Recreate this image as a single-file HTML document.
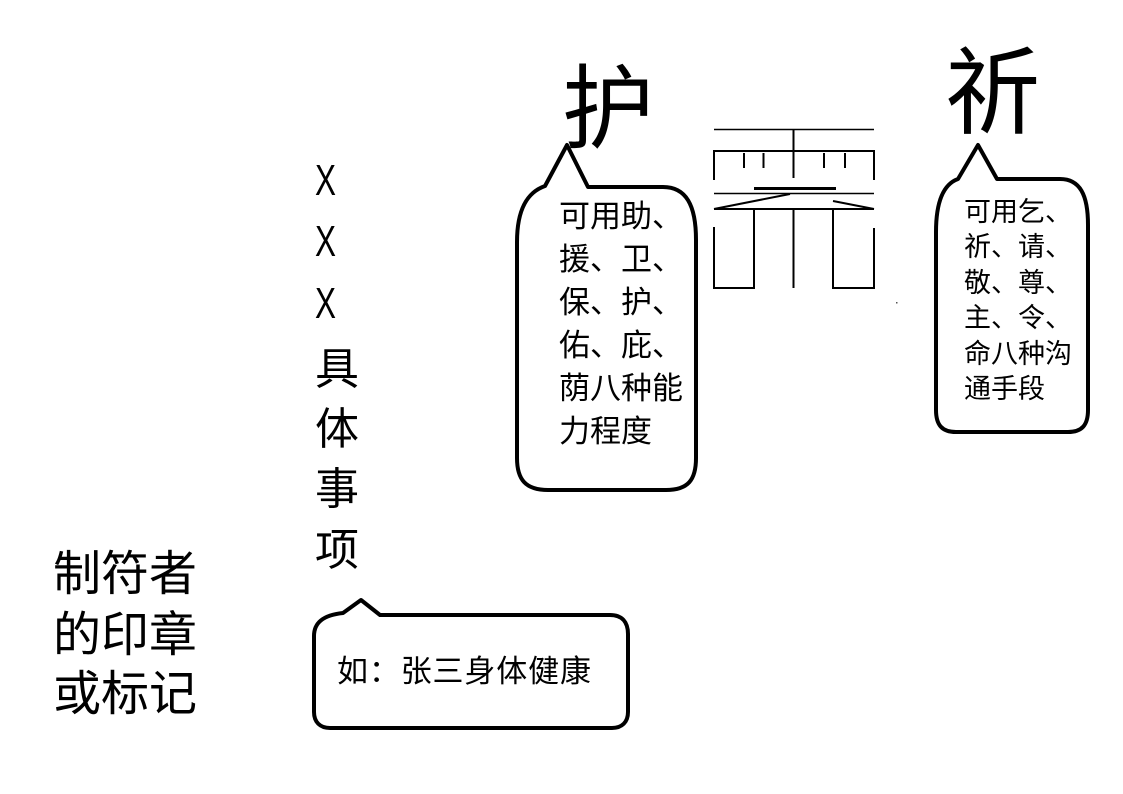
<!DOCTYPE html>
<html><head><meta charset="utf-8"><style>
html,body{margin:0;padding:0;background:#fff;}
svg{display:block;}
text{font-family:"Liberation Sans","Noto Sans CJK SC",sans-serif;fill:#000;}
</style></head><body>
<svg width="1123" height="794" viewBox="0 0 1123 794" xmlns="http://www.w3.org/2000/svg">
<rect width="1123" height="794" fill="#fff"/>

<!-- Big characters -->
<text x="562" y="141" font-size="92">护</text>
<text x="945" y="126" font-size="95">祈</text>

<!-- Bubble 1 -->
<path d="M567 145 L588 187 L663 187 C686 187 696 205 696 240 L696 458 C696 480 688 490 666 490 L548 490 C526 490 517 480 517 458 L517 242 C517 208 528 192 545 186 Z" fill="none" stroke="#000" stroke-width="4" stroke-linejoin="round"/>
<g font-size="31">
<text x="559" y="227">可用助、</text>
<text x="559" y="270">援、卫、</text>
<text x="559" y="313">保、护、</text>
<text x="559" y="356">佑、庇、</text>
<text x="559" y="399">荫八种能</text>
<text x="559" y="442">力程度</text>
</g>

<!-- Bubble 2 -->
<path d="M978 145 L997 179 L1060 179 C1080 179 1088 195 1088 225 L1088 410 C1088 425 1082 432 1068 432 L956 432 C942 432 936 425 936 410 L936 232 C936 200 944 184 958 179 Z" fill="none" stroke="#000" stroke-width="4" stroke-linejoin="round"/>
<g font-size="27">
<text x="964" y="221">可用乞、</text>
<text x="964" y="256">祈、请、</text>
<text x="964" y="292">敬、尊、</text>
<text x="964" y="327">主、令、</text>
<text x="964" y="363">命八种沟</text>
<text x="964" y="398">通手段</text>
</g>

<!-- Bubble 3 -->
<path d="M361 600 L380 615 L610 615 C622 615 628 622 628 634 L628 712 C628 722 622 728 612 728 L330 728 C320 728 314 722 314 712 L314 636 C314 622 324 615 343 613 Z" fill="none" stroke="#000" stroke-width="4" stroke-linejoin="round"/>
<text x="337" y="682" font-size="31" letter-spacing="0.85">如：张三身体健康</text>

<!-- Vertical column -->
<g font-size="44">
<text x="315" y="195" textLength="21" lengthAdjust="spacingAndGlyphs">X</text>
<text x="315" y="256" textLength="21" lengthAdjust="spacingAndGlyphs">X</text>
<text x="315" y="318" textLength="21" lengthAdjust="spacingAndGlyphs">X</text>
<text x="315" y="384">具</text>
<text x="315" y="444">体</text>
<text x="315" y="504">事</text>
<text x="315" y="565">项</text>
</g>

<!-- Left text -->
<g font-size="48">
<text x="53" y="590">制符者</text>
<text x="53" y="651">的印章</text>
<text x="53" y="710">或标记</text>
</g>

<!-- Temple drawing -->
<g stroke="#000" fill="none" stroke-linecap="butt">
<line x1="714" y1="129.5" x2="874" y2="129.5" stroke-width="1.5"/>
<line x1="793.5" y1="129" x2="793.5" y2="178" stroke-width="2"/>
<line x1="713" y1="151" x2="875" y2="151" stroke-width="2"/>
<line x1="714" y1="151" x2="714" y2="180" stroke-width="2"/>
<line x1="874" y1="151" x2="874" y2="180" stroke-width="2"/>
<line x1="744" y1="153" x2="744" y2="168" stroke-width="2"/>
<line x1="763.5" y1="153" x2="763.5" y2="168" stroke-width="2"/>
<line x1="824" y1="153" x2="824" y2="168" stroke-width="2"/>
<line x1="845" y1="153" x2="845" y2="168" stroke-width="2"/>
<line x1="754" y1="188.5" x2="836" y2="188.5" stroke-width="3"/>
<line x1="714" y1="193.5" x2="874" y2="193.5" stroke-width="1.5"/>
<line x1="714" y1="209" x2="790" y2="194" stroke-width="2"/>
<line x1="833" y1="201" x2="874" y2="209" stroke-width="2"/>
<line x1="714" y1="209" x2="874" y2="209" stroke-width="2"/>
<line x1="714" y1="227" x2="714" y2="288" stroke-width="2"/>
<line x1="754" y1="209" x2="754" y2="288" stroke-width="2"/>
<line x1="713" y1="288" x2="755" y2="288" stroke-width="2"/>
<line x1="793.5" y1="209" x2="793.5" y2="288" stroke-width="2"/>
<line x1="833" y1="209" x2="833" y2="288" stroke-width="2"/>
<line x1="874" y1="228" x2="874" y2="288" stroke-width="2"/>
<line x1="832" y1="288" x2="875" y2="288" stroke-width="2"/>
</g>
<rect x="896" y="302" width="1.5" height="1.5" fill="#555"/>
</svg>
</body></html>
